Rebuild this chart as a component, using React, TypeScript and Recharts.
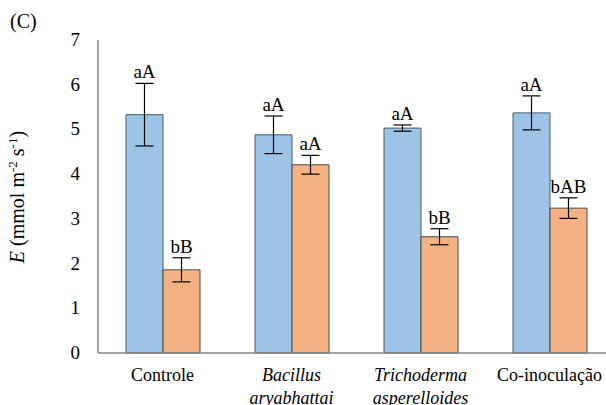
import React from "react";
import { BarChart, Bar, XAxis, YAxis, ErrorBar, LabelList, Label } from "recharts";

const categories = ["Controle", "Bacillus aryabhattai", "Trichoderma asperelloides", "Co-inoculação"];
const categoryLines = [["Controle"], ["Bacillus", "aryabhattai"], ["Trichoderma", "asperelloides"], ["Co-inoculação"]];
const categoryItalic = [false, true, true, false];
const seriesA = [5.33, 4.88, 5.03, 5.37];
const errA = [0.7, 0.42, 0.07, 0.38];
const lettersA = ["aA", "aA", "aA", "aA"];
const seriesB = [1.86, 4.21, 2.6, 3.24];
const errB = [0.27, 0.21, 0.18, 0.23];
const lettersB = ["bB", "aA", "bB", "bAB"];
const yTicks = [0, 1, 2, 3, 4, 5, 6, 7];

const data = categories.map((c, i) => ({
  name: c,
  a: seriesA[i],
  ea: errA[i],
  b: seriesB[i],
  eb: errB[i],
}));

const FONT = '"Liberation Serif", "Times New Roman", serif';
const serif = { fontFamily: FONT };

const CatTick = (props: any) => {
  const { x, y, payload } = props;
  const i = categories.indexOf(payload.value);
  const lines = categoryLines[i] || [payload.value];
  return (
    <text x={x} y={y} textAnchor="middle" style={{ ...serif, fontSize: 18, fontStyle: categoryItalic[i] ? "italic" : "normal" }} fill="#000">
      {lines.map((l, k) => (
        <tspan key={k} x={x} dy={k === 0 ? 20 : 23}>{l}</tspan>
      ))}
    </text>
  );
};

const YTick = (props: any) => {
  const { x, y, payload } = props;
  return (
    <text x={x} y={y} dy={6} textAnchor="end" style={{ ...serif, fontSize: 19 }} fill="#000">{payload.value}</text>
  );
};

const makeLetterLabel = (letters: string[], errs: number[], vals: number[]) => (props: any) => {
  const { x, y, width, height, index } = props;
  const off = (height * errs[index]) / vals[index];
  return (
    <text x={x + width / 2} y={y - off - 5} textAnchor="middle" style={{ ...serif, fontSize: 19 }} fill="#000">
      {letters[index]}
    </text>
  );
};

export default function App() {
  return (
    <div style={{ position: "absolute", left: 0, top: 0, width: 606, height: 405, overflow: "hidden", background: "#fff", ...serif }}>
      <div style={{ position: "absolute", left: 10, top: 10, fontFamily: FONT, fontSize: 20, color: "#000" }}>(C)</div>
      <BarChart width={620} height={405} data={data} margin={{ top: 40, right: 6, bottom: 0, left: 0 }}
        barGap={0} barSize={37} style={serif}>
        <XAxis dataKey="name" height={52} axisLine={{ stroke: "#868686", strokeWidth: 1.5 }} tickLine={false}
          tick={<CatTick />} interval={0} />
        <YAxis width={98} domain={[0, 7]} ticks={yTicks} interval={0} axisLine={{ stroke: "#868686", strokeWidth: 1.5 }}
          tickLine={false} tickSize={0} tickMargin={18} tick={<YTick />}>
          <Label content={() => (
            <text transform="rotate(-90, 24, 197)" x={24} y={197} textAnchor="middle" style={{ ...serif, fontSize: 20 }} fill="#000">
              <tspan fontStyle="italic">E</tspan>
              <tspan> (mmol m</tspan>
              <tspan fontSize={13} dy={-7}>-2</tspan>
              <tspan dy={7}> s</tspan>
              <tspan fontSize={13} dy={-7}>-1</tspan>
              <tspan dy={7}>)</tspan>
            </text>
          )} />
        </YAxis>
        <Bar dataKey="a" fill="#9dc3e6" stroke="#4a5a6a" strokeWidth={1} isAnimationActive={false}>
          <ErrorBar dataKey="ea" width={9} stroke="#000" strokeWidth={1.2} />
          <LabelList dataKey="a" content={makeLetterLabel(lettersA, errA, seriesA)} />
        </Bar>
        <Bar dataKey="b" fill="#f4b183" stroke="#4a4a4a" strokeWidth={1} isAnimationActive={false}>
          <ErrorBar dataKey="eb" width={9} stroke="#000" strokeWidth={1.2} />
          <LabelList dataKey="b" content={makeLetterLabel(lettersB, errB, seriesB)} />
        </Bar>
      </BarChart>
    </div>
  );
}
